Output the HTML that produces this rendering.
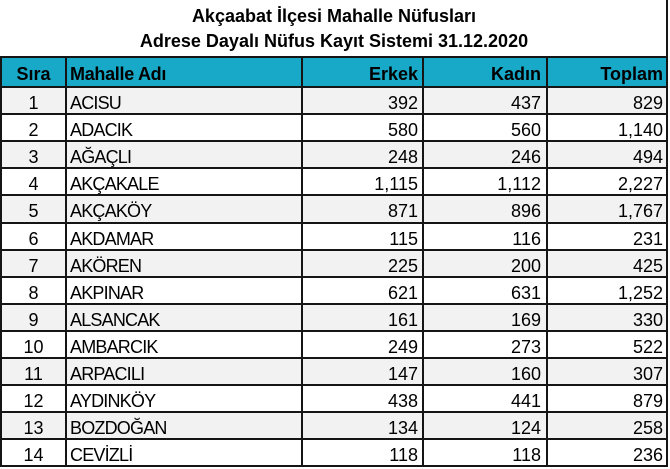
<!DOCTYPE html>
<html>
<head>
<meta charset="utf-8">
<style>
  html,body{margin:0;padding:0;background:#fff;}
  body{width:670px;height:467px;position:relative;overflow:hidden;font-family:"Liberation Sans",Arial,sans-serif;color:#000;}
  .t{position:absolute;left:0;width:668px;text-align:center;font-weight:bold;font-size:18px;line-height:25px;white-space:nowrap;}
  .hdr{position:absolute;left:0;top:57px;width:668px;height:30px;background:#18a8c8;}
  .row{position:absolute;left:0;width:668px;height:27.1px;}
  .g{background:#f2f2f2;}
  .c{position:absolute;top:0;height:100%;font-size:18px;line-height:27px;white-space:nowrap;}
  .row .c{top:3px;}
  .hdr .c{font-weight:bold;line-height:30px;top:1.5px;}
  .c1{left:1px;width:65px;text-align:center;}
  .c2{left:70px;width:228px;text-align:left;letter-spacing:-0.8px;}
  .hdr .c2{letter-spacing:-0.3px;}
  .c3{left:302px;width:116px;text-align:right;}
  .c4{left:424px;width:117px;text-align:right;}
  .c5{left:548px;width:115px;text-align:right;}
  .hl{position:absolute;left:0;width:668px;height:2px;background:#151515;}
  .vl{position:absolute;width:2px;background:#151515;}
</style>
</head>
<body>
<div class="t" style="top:4px;">Akçaabat İlçesi Mahalle Nüfusları</div>
<div class="t" style="top:29px;">Adrese Dayalı Nüfus Kayıt Sistemi 31.12.2020</div>

<div class="hdr">
  <div class="c c1">Sıra</div>
  <div class="c c2">Mahalle Adı</div>
  <div class="c c3">Erkek</div>
  <div class="c c4">Kadın</div>
  <div class="c c5">Toplam</div>
</div>

<div class="row g" style="top:87px;"><div class="c c1">1</div><div class="c c2">ACISU</div><div class="c c3">392</div><div class="c c4">437</div><div class="c c5">829</div></div>
<div class="row" style="top:114.1px;"><div class="c c1">2</div><div class="c c2">ADACIK</div><div class="c c3">580</div><div class="c c4">560</div><div class="c c5">1,140</div></div>
<div class="row g" style="top:141.2px;"><div class="c c1">3</div><div class="c c2">AĞAÇLI</div><div class="c c3">248</div><div class="c c4">246</div><div class="c c5">494</div></div>
<div class="row" style="top:168.3px;"><div class="c c1">4</div><div class="c c2">AKÇAKALE</div><div class="c c3">1,115</div><div class="c c4">1,112</div><div class="c c5">2,227</div></div>
<div class="row g" style="top:195.4px;"><div class="c c1">5</div><div class="c c2">AKÇAKÖY</div><div class="c c3">871</div><div class="c c4">896</div><div class="c c5">1,767</div></div>
<div class="row" style="top:222.5px;"><div class="c c1">6</div><div class="c c2">AKDAMAR</div><div class="c c3">115</div><div class="c c4">116</div><div class="c c5">231</div></div>
<div class="row g" style="top:249.6px;"><div class="c c1">7</div><div class="c c2">AKÖREN</div><div class="c c3">225</div><div class="c c4">200</div><div class="c c5">425</div></div>
<div class="row" style="top:276.7px;"><div class="c c1">8</div><div class="c c2">AKPINAR</div><div class="c c3">621</div><div class="c c4">631</div><div class="c c5">1,252</div></div>
<div class="row g" style="top:303.8px;"><div class="c c1">9</div><div class="c c2">ALSANCAK</div><div class="c c3">161</div><div class="c c4">169</div><div class="c c5">330</div></div>
<div class="row" style="top:330.9px;"><div class="c c1">10</div><div class="c c2">AMBARCIK</div><div class="c c3">249</div><div class="c c4">273</div><div class="c c5">522</div></div>
<div class="row g" style="top:358px;"><div class="c c1">11</div><div class="c c2">ARPACILI</div><div class="c c3">147</div><div class="c c4">160</div><div class="c c5">307</div></div>
<div class="row" style="top:385.1px;"><div class="c c1">12</div><div class="c c2">AYDINKÖY</div><div class="c c3">438</div><div class="c c4">441</div><div class="c c5">879</div></div>
<div class="row g" style="top:412.2px;"><div class="c c1">13</div><div class="c c2">BOZDOĞAN</div><div class="c c3">134</div><div class="c c4">124</div><div class="c c5">258</div></div>
<div class="row" style="top:439.3px;"><div class="c c1">14</div><div class="c c2">CEVİZLİ</div><div class="c c3">118</div><div class="c c4">118</div><div class="c c5">236</div></div>

<!-- horizontal lines -->
<div class="hl" style="top:56px;"></div>
<div class="hl" style="top:86px;"></div>
<div class="hl" style="top:113.1px;"></div>
<div class="hl" style="top:140.2px;"></div>
<div class="hl" style="top:167.3px;"></div>
<div class="hl" style="top:194.4px;"></div>
<div class="hl" style="top:221.5px;"></div>
<div class="hl" style="top:248.6px;"></div>
<div class="hl" style="top:275.7px;"></div>
<div class="hl" style="top:302.8px;"></div>
<div class="hl" style="top:329.9px;"></div>
<div class="hl" style="top:357px;"></div>
<div class="hl" style="top:384.1px;"></div>
<div class="hl" style="top:411.2px;"></div>
<div class="hl" style="top:438.3px;"></div>
<div class="hl" style="top:465.4px;"></div>

<!-- vertical lines -->
<div class="vl" style="left:0px;top:56px;height:411px;"></div>
<div class="vl" style="left:65px;top:56px;height:411px;"></div>
<div class="vl" style="left:300.5px;top:56px;height:411px;"></div>
<div class="vl" style="left:422px;top:56px;height:411px;"></div>
<div class="vl" style="left:546px;top:56px;height:411px;"></div>
<div class="vl" style="left:666px;top:0px;height:467px;"></div>
</body>
</html>
